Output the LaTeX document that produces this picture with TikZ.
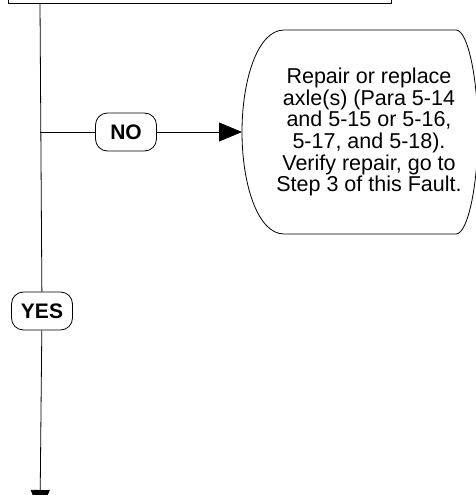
\documentclass[tikz,border=0pt]{standalone}
\usepackage{fontspec}
\setmainfont{Liberation Sans}
\usetikzlibrary{arrows.meta, positioning, calc}

\begin{document}
\begin{tikzpicture}[
  x=1pt, y=-1pt,
  line width=0.8pt,
  tag/.style={draw, fill=white, rounded corners=12pt, font=\fontsize{21}{22}\selectfont\bfseries, minimum width=61pt, minimum height=38pt, inner sep=0pt},
  flow/.style={-{Triangle[length=23pt, width=19pt]}},
  stepbox/.style={align=center, font=\fontsize{21.5}{21.7}\selectfont, inner sep=0pt}
]
  \useasboundingbox (0,0) rectangle (476,495);
  \clip (0,0) rectangle (476,495);

  % previous step box (cut off at the top)
  \node[draw, minimum width=383pt, minimum height=40pt, inner sep=0pt] (prev) at (199.5,-17) {};

  \coordinate (trunk) at (40,3);
  \coordinate (branch) at (40,132);
  \coordinate (next) at (40,513);

  \node[tag] (no) at (126,132) {NO};
  \node[tag] (yes) at (42,311) {YES};

  \node[stepbox] (repair) at (369,132) {
    Repair or replace\\
    axle(s) (Para 5-14\\
    and 5-15 or 5-16,\\
    5-17, and 5-18).\\
    Verify repair, go to\\
    Step 3 of this Fault.
  };
  \coordinate (repairW) at (242,132);

  % outline of the repair box
  \draw (284,30) -- (456,30)
    .. controls (468,30) and (478,80) .. (478,132)
    .. controls (478,184) and (468,234) .. (456,234)
    -- (284,234)
    .. controls (258,234) and (242,185) .. (repairW)
    .. controls (242,79) and (258,30) .. (284,30) -- cycle;

  % connectors
  \draw[flow] (trunk) -- (yes) -- (next);
  \draw (branch) -- (no);
  \draw[flow] (no) -- (repairW);
\end{tikzpicture}
\end{document}
